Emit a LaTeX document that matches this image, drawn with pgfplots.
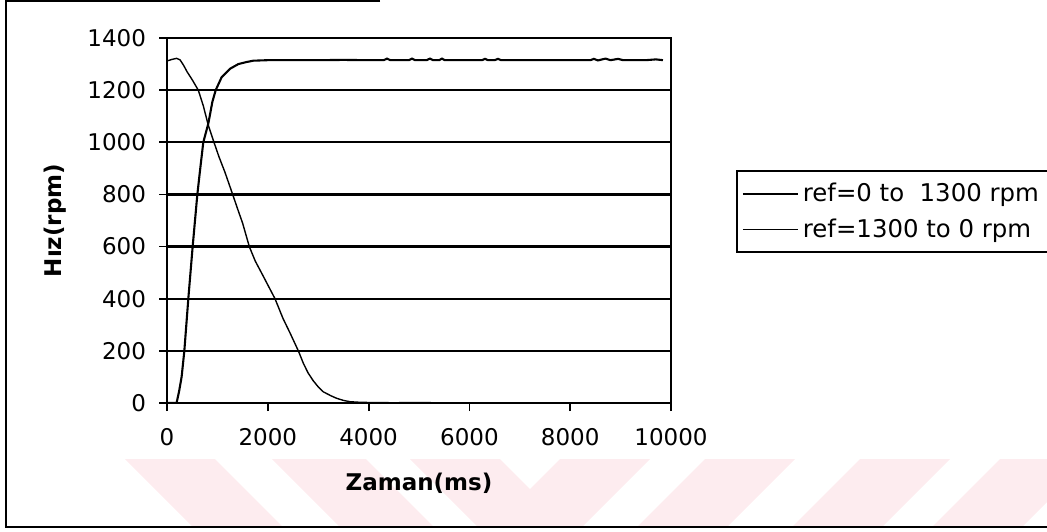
\documentclass[border=0pt]{standalone}
\usepackage{fontspec}
\setmainfont{DejaVu Sans}
\usepackage{pgfplots}
\pgfplotsset{compat=1.18}
\definecolor{wm}{RGB}{253,236,239}
\begin{document}
\begin{tikzpicture}
\useasboundingbox (0pt,0pt) rectangle (523.5pt,-265.5pt);
% watermark stripes (pixel/2 = pt)
\foreach \a/\b in {125/215,272/366,410/500}{
  \fill[wm] ({\a*0.5pt},-229.5pt) -- ({\b*0.5pt},-229.5pt) -- ({(\b+68)*0.5pt},-263.5pt) -- ({(\a+68)*0.5pt},-263.5pt) -- cycle;}
\foreach \a/\b in {560/650,705/795,860/950,1000/1090}{
  \fill[wm] ({\a*0.5pt},-229.5pt) -- ({\b*0.5pt},-229.5pt) -- ({(\b-68)*0.5pt},-263.5pt) -- ({(\a-68)*0.5pt},-263.5pt) -- cycle;}
% outer frame
\draw[line width=1pt] (190pt,-0.5pt) -- (3pt,-0.5pt) -- (3pt,-263.5pt) -- (523.5pt,-263.5pt);
\begin{axis}[
  at={(83.5pt,-201.5pt)}, anchor=south west,
  scale only axis, width=252pt, height=182.5pt,
  xmin=0, xmax=10000, ymin=0, ymax=1400,
  xtick={0,2000,4000,6000,8000,10000},
  ytick={0,200,400,600,800,1000,1200,1400},
  xtick pos=bottom, ytick pos=left,
  tick align=outside, major tick length=4pt,
  tick style={black, line width=0.9pt},
  axis line style={black, line width=1pt},
  ymajorgrids, grid style={black, line width=1.1pt},
  scaled x ticks=false,
  /pgf/number format/assume math mode=true,
  /pgf/number format/1000 sep={},
  tick label style={font=\fontsize{11.5}{13}\selectfont},
  xticklabel style={yshift=-5pt},
  yticklabel style={xshift=-3pt},
  xlabel={\textbf{Zaman(ms)}},
  ylabel={\textbf{Hız(rpm)}},
  label style={font=\fontsize{11.5}{13}\selectfont},
  xlabel style={at={(axis description cs:0.5,-0.219)}, anchor=center},
  ylabel style={at={(axis description cs:-0.222,0.5)}, anchor=center, rotate=0},
  legend style={at={(axis description cs:1.129,0.638)}, anchor=north west,
    draw=black, line width=0.8pt, font=\fontsize{12.2}{14}\selectfont,
    inner xsep=2.5pt, inner ysep=4pt, row sep=3pt, cells={anchor=west}},
  legend image code/.code={\draw[#1] (0pt,0pt) -- (27.5pt,0pt);},
]
\addplot[black, line width=1.05pt] coordinates {
(0,0)(100,0)(190,0)(240,45)(290,100)(344,200)(423,400)(509,600)(602,800)
(660,900)(720,1000)(820,1072)(900,1155)(966,1200)(1085,1250)(1250,1282)
(1415,1300)(1580,1308)(1712,1313)(2000,1315)(2500,1315)(3000,1315)(3500,1316)
(4000,1315)(4300,1315)(4365,1321)(4430,1315)(4800,1315)(4861,1321)(4920,1315)
(5150,1315)(5218,1321)(5280,1315)(5400,1315)(5456,1321)(5510,1315)(6250,1315)
(6310,1320)(6370,1315)(6500,1315)(6567,1320)(6630,1315)(7000,1315)(7500,1315)
(8000,1315)(8400,1315)(8470,1320)(8550,1314)(8700,1321)(8800,1315)(8950,1320)
(9050,1315)(9500,1315)(9700,1318)(9840,1315)
};
\addlegendentry{ref=0 to\ \ 1300 rpm}
\addplot[black, line width=0.7pt] coordinates {
(0,1312)(100,1318)(190,1322)(260,1316)(330,1295)(400,1270)(500,1240)(621,1200)
(720,1140)(820,1065)(932,1000)(1030,945)(1150,885)(1303,800)(1400,745)
(1500,690)(1633,600)(1750,545)(1900,490)(2143,400)(2300,325)(2450,265)
(2606,200)(2704,153)(2800,115)(2903,85)(3000,62)(3101,43)(3250,28)(3367,18)
(3500,10)(3631,5)(3800,3)(4000,2)(4500,1)(5000,2)(5300,1)
};
\addlegendentry{ref=1300 to 0 rpm}
\end{axis}
\end{tikzpicture}
\end{document}
